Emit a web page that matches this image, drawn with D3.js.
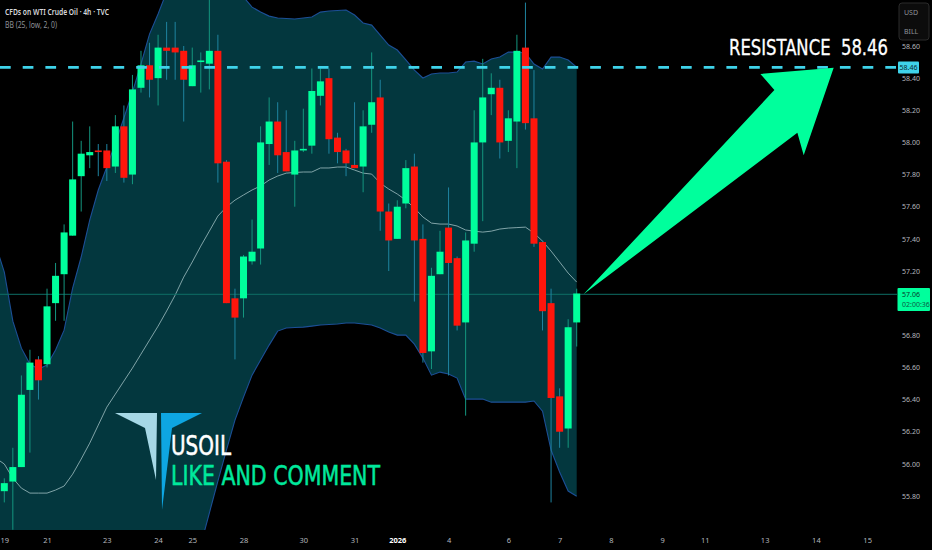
<!DOCTYPE html>
<html>
<head>
<meta charset="utf-8">
<script src="https://cdnjs.cloudflare.com/ajax/libs/d3/7.8.5/d3.min.js"></script>
<style>
    html, body { margin: 0; padding: 0; background: #000; overflow: hidden; }
    text { font-family: "Noto Sans", sans-serif; }
</style>
</head>
<body>
<div id="chart"></div>
<script>
// candles (4h bars)
var opens = [55.83,55.89,55.98,56.46,56.65,56.62,57.00,57.18,57.42,57.79,57.92,57.95,57.95,57.85,58.10,57.80,58.34,58.48,58.40,58.59,58.59,58.57,58.35,58.50,58.49,58.57,57.88,57.03,57.03,57.26,57.34,57.99,58.13,57.94,57.80,57.95,57.98,58.29,58.40,58.03,57.95,57.86,57.85,58.11,58.28,57.57,57.40,57.62,57.85,57.40,56.70,57.18,57.47,57.28,56.88,57.37,58.00,58.30,58.34,58.01,58.13,58.59,58.15,57.38,57.00,56.42,56.22,56.88];
var highs = [55.91,56.10,56.55,56.71,56.67,57.09,57.25,57.49,58.13,58.01,58.10,57.99,57.99,58.17,58.23,58.42,58.57,58.62,58.67,58.75,58.75,58.60,58.59,58.56,58.89,58.67,57.89,57.09,57.30,57.52,58.10,58.28,58.25,58.20,58.01,58.21,58.46,58.46,58.46,58.06,57.96,58.25,58.20,58.56,58.39,57.62,57.64,57.89,57.93,57.49,57.22,57.45,57.72,57.29,57.44,58.20,58.52,58.43,58.39,58.20,58.67,58.87,58.45,57.39,57.09,56.47,56.90,57.09];
var lows = [55.76,55.59,55.98,56.07,56.40,56.60,56.89,56.89,57.42,57.57,57.84,57.79,57.76,57.81,57.75,57.74,58.31,58.28,58.23,58.39,58.39,58.13,58.35,58.31,58.33,57.75,57.00,56.65,56.91,57.24,57.24,57.86,57.81,57.82,57.60,57.94,57.93,58.23,57.93,57.87,57.79,57.84,57.69,58.06,57.45,57.20,57.40,57.59,57.01,56.63,56.59,57.18,56.55,56.83,56.30,57.32,57.51,58.17,57.90,57.94,57.84,58.08,57.35,56.83,55.76,56.10,56.10,56.73];
var closes = [55.88,55.98,56.43,56.63,56.52,56.98,57.17,57.44,57.77,57.93,57.94,57.94,57.84,58.10,57.78,58.33,58.48,58.39,58.59,58.57,58.56,58.39,58.48,58.51,58.57,57.87,57.00,56.91,57.29,57.32,58.00,58.13,57.92,57.82,57.95,57.96,58.32,58.38,58.02,57.94,57.87,57.84,58.10,58.25,57.57,57.39,57.60,57.84,57.39,56.69,57.17,57.32,57.25,56.86,57.39,58.00,58.28,58.34,58.00,58.15,58.57,58.12,57.37,56.95,56.41,56.20,56.85,57.06];

// BB (25, low, 2, 0), first value sits one bar left of the first candle
var bbUpper = [57.361,57.193,56.888,56.720,56.621,56.590,56.615,56.708,56.832,57.094,57.287,57.517,57.704,57.847,57.996,58.152,58.313,58.488,58.674,58.799,58.936,59.042,59.135,59.197,59.197,59.166,59.104,59.023,58.961,58.905,58.842,58.811,58.786,58.774,58.771,58.768,58.774,58.780,58.811,58.818,58.821,58.824,58.793,58.743,58.730,58.668,58.606,58.575,58.513,58.450,58.401,58.426,58.432,58.432,58.438,58.500,58.506,58.488,58.519,58.531,58.562,58.562,58.556,58.488,58.457,58.531,58.531,58.513,58.469];
var bbBasis = [56.036,55.999,55.911,55.849,55.818,55.818,55.818,55.837,55.862,55.936,56.030,56.129,56.241,56.353,56.434,56.515,56.596,56.683,56.770,56.857,56.951,57.050,57.162,57.256,57.355,57.448,57.542,57.598,57.641,57.673,57.704,57.729,57.766,57.791,57.809,57.813,57.816,57.816,57.841,57.841,57.847,57.847,57.828,57.809,57.803,57.747,57.710,57.679,57.641,57.592,57.536,57.498,57.492,57.492,57.480,57.455,57.448,57.442,57.448,57.461,57.467,57.470,57.473,57.436,57.386,57.324,57.256,57.187,57.131];
var bbLower = [54.779,54.804,54.934,54.978,55.015,55.046,55.022,54.966,54.891,54.779,54.760,54.717,54.779,54.860,54.922,54.953,54.978,54.990,54.990,55.053,55.102,55.121,55.152,55.308,55.495,55.694,55.893,56.086,56.272,56.415,56.552,56.646,56.739,56.826,56.845,56.848,56.851,56.857,56.864,56.867,56.870,56.876,56.876,56.870,56.864,56.845,56.820,56.801,56.801,56.745,56.658,56.552,56.571,56.559,56.534,56.403,56.403,56.403,56.384,56.384,56.384,56.384,56.384,56.391,56.328,56.086,55.949,55.831,55.799];

// axis ticks, 57.00 sits under the last price tag so it is left out
var priceTicks = [58.6,58.4,58.2,58.0,57.8,57.6,57.4,57.2,56.8,56.6,56.4,56.2,56.0,55.8];
var timeTickBars = [0,5,12,18,22,28,35,41,46,52,59,65,71,77,82,89,95,101];
var timeTickLabels = ["19","21","23","24","25","28","30","31","2026","4","6","7","8","9","11","13","14","15"];

// drawn levels and the arrow, as bar index / price
var lastPrice = 57.055;
var lastPriceLabel = "57.06";
var resistance = 58.467;
var resistanceLabel = "58.46";
var arrowBars = [67.8,90.14,88.5,97.08,93.57,92.83];
var arrowPrices = [57.055,58.326,58.426,58.465,57.921,58.06];

var w = 932;
var h = 550;
var plotW = 897;
var plotH = 530;
var barW = 7;

var green = "#00ff9c";
var red = "#ff160c";
var cyan = "#3fd3ea";
var bannerFont = "'DejaVu Sans Condensed', 'DejaVu Sans', sans-serif";

var xScale = d3.scaleLinear().domain([0, 67]).range([4.3, 576.7]);
var yScale = d3.scaleLinear().domain([58.6, 55.8]).range([46, 496]);

var svg = d3.select("#chart")
            .append("svg")
            .attr("width", w)
            .attr("height", h)
            .style("display", "block")
            .style("background", "#000");

svg.append("clipPath")
   .attr("id", "plot")
   .append("rect")
   .attr("width", plotW)
   .attr("height", plotH);

var plot = svg.append("g").attr("clip-path", "url(#plot)");

var bands = d3.range(bbUpper.length);   // i = 0 is bar -1

// Bollinger fill
plot.append("path")
    .attr("d", d3.area()
        .x(function(i) { return xScale(i - 1); })
        .y0(function(i) { return yScale(bbLower[i]); })
        .y1(function(i) { return yScale(bbUpper[i]); })(bands))
    .attr("fill", "#03373e");

// Bollinger lines
[bbUpper, bbLower].forEach(function(values) {
    plot.append("path")
        .attr("d", d3.line()
            .x(function(i) { return xScale(i - 1); })
            .y(function(i) { return yScale(values[i]); })(bands))
        .attr("fill", "none")
        .attr("stroke", "#1c4f96")
        .attr("stroke-width", 1.1);
});

plot.append("path")
    .attr("d", d3.line()
        .x(function(i) { return xScale(i - 1); })
        .y(function(i) { return yScale(bbBasis[i]); })(bands))
    .attr("fill", "none")
    .attr("stroke", "#8fb0b3")
    .attr("stroke-width", 0.9);

// last price line
plot.append("line")
    .attr("x1", 0)
    .attr("x2", plotW)
    .attr("y1", yScale(lastPrice))
    .attr("y2", yScale(lastPrice))
    .attr("stroke", "#0e6f66")
    .attr("stroke-width", 1);

var bars = d3.range(opens.length);

// wicks
plot.selectAll(".wick")
    .data(bars)
    .enter()
    .append("line")
    .attr("class", "wick")
    .attr("x1", function(i) { return xScale(i); })
    .attr("x2", function(i) { return xScale(i); })
    .attr("y1", function(i) { return yScale(highs[i]); })
    .attr("y2", function(i) { return yScale(lows[i]); })
    .attr("stroke", function(i) { return closes[i] >= opens[i] ? "#14967f" : "#1f84a0"; })
    .attr("stroke-width", 1);

// bodies
plot.selectAll(".body")
    .data(bars)
    .enter()
    .append("rect")
    .attr("class", "body")
    .attr("x", function(i) { return xScale(i) - barW / 2; })
    .attr("y", function(i) { return yScale(Math.max(opens[i], closes[i])); })
    .attr("width", barW)
    .attr("height", function(i) { return Math.max(1, Math.abs(yScale(opens[i]) - yScale(closes[i]))); })
    .attr("fill", function(i) { return closes[i] >= opens[i] ? green : red; });

// resistance level
svg.append("line")
   .attr("x1", 0)
   .attr("x2", plotW)
   .attr("y1", yScale(resistance))
   .attr("y2", yScale(resistance))
   .attr("stroke", cyan)
   .attr("stroke-width", 2.6)
   .attr("stroke-dasharray", "10.7 12");

// arrow to the resistance
svg.append("polygon")
   .attr("points", arrowBars.map(function(b, i) {
       return xScale(b) + "," + yScale(arrowPrices[i]);
   }).join(" "))
   .attr("fill", green);

svg.append("text")
   .attr("x", 729)
   .attr("y", 55)
   .attr("fill", "#fff")
   .attr("stroke", "#fff")
   .attr("stroke-width", 0.3)
   .attr("font-size", 22)
   .attr("textLength", 159)
   .attr("lengthAdjust", "spacingAndGlyphs")
   .style("font-family", bannerFont)
   .style("white-space", "pre")
   .text("RESISTANCE  " + resistanceLabel);

// logo
svg.append("polygon")
   .attr("points", "115,413 157,413 156,480 145,428")
   .attr("fill", "#a6d8e6");
svg.append("polygon")
   .attr("points", "161,413 202,413 172,428 162,510")
   .attr("fill", "#0ea6e2");

svg.append("text")
   .attr("x", 171)
   .attr("y", 455)
   .attr("fill", "#fff")
   .attr("stroke", "#fff")
   .attr("stroke-width", 0.5)
   .attr("font-size", 27)
   .attr("textLength", 60)
   .attr("lengthAdjust", "spacingAndGlyphs")
   .style("font-family", bannerFont)
   .text("USOIL");

svg.append("text")
   .attr("x", 171)
   .attr("y", 485)
   .attr("fill", "#00e89c")
   .attr("stroke", "#00e89c")
   .attr("stroke-width", 0.5)
   .attr("font-size", 27)
   .attr("textLength", 209)
   .attr("lengthAdjust", "spacingAndGlyphs")
   .style("font-family", bannerFont)
   .text("LIKE AND COMMENT");

// price axis
var yAxis = d3.axisRight(yScale)
              .tickValues(priceTicks)
              .tickFormat(d3.format(".2f"))
              .tickSize(0)
              .tickPadding(0);

var yG = svg.append("g").attr("transform", "translate(902,0)").call(yAxis);
yG.select(".domain").remove();
yG.selectAll("text").attr("fill", "#b4b7bd").attr("font-size", 7);

// time axis, future dates keep the same bar spacing
var xAxis = d3.axisBottom(xScale)
              .tickValues(timeTickBars)
              .tickFormat(function(d, i) { return timeTickLabels[i]; })
              .tickSize(0)
              .tickPadding(0);

var xG = svg.append("g").attr("transform", "translate(0,537.5)").call(xAxis);
xG.select(".domain").remove();
xG.selectAll("text")
  .attr("fill", function(d, i) { return timeTickLabels[i] === "2026" ? "#fff" : "#b4b7bd"; })
  .attr("font-weight", function(d, i) { return timeTickLabels[i] === "2026" ? "bold" : "normal"; })
  .attr("font-size", 7.5);

// price labels
svg.append("rect")
   .attr("x", 898)
   .attr("y", yScale(resistance) - 6)
   .attr("width", 21)
   .attr("height", 12)
   .attr("rx", 1)
   .attr("fill", cyan);
svg.append("text")
   .attr("x", 908.5)
   .attr("y", yScale(resistance) + 2.5)
   .attr("text-anchor", "middle")
   .attr("fill", "#0a2a30")
   .attr("font-size", 7)
   .text(resistanceLabel);

svg.append("rect")
   .attr("x", 897.5)
   .attr("y", 288)
   .attr("width", 32.5)
   .attr("height", 23)
   .attr("rx", 1)
   .attr("fill", green);
svg.append("text")
   .attr("x", 902)
   .attr("y", 297)
   .attr("fill", "#06382c")
   .attr("font-size", 7)
   .text(lastPriceLabel);
svg.append("text")
   .attr("x", 902)
   .attr("y", 307)
   .attr("fill", "#0b5a45")
   .attr("font-size", 7)
   .text("02:00:36");

// currency / unit box
svg.append("rect")
   .attr("x", 899)
   .attr("y", 3)
   .attr("width", 30)
   .attr("height", 37)
   .attr("rx", 3)
   .attr("fill", "#0c0c0c")
   .attr("stroke", "#2a2a2a");
svg.append("text").attr("x", 904).attr("y", 15).attr("fill", "#8f9298").attr("font-size", 7).text("USD");
svg.append("text").attr("x", 904).attr("y", 34).attr("fill", "#8f9298").attr("font-size", 7).text("BILL");

// chart title and indicator legend
svg.append("text")
   .attr("x", 5)
   .attr("y", 15)
   .attr("fill", "#d8d9dc")
   .attr("font-size", 8)
   .attr("font-weight", 600)
   .attr("textLength", 104)
   .attr("lengthAdjust", "spacingAndGlyphs")
   .text("CFDs on WTI Crude Oil \u00b7 4h \u00b7 TVC");
svg.append("text")
   .attr("x", 5)
   .attr("y", 28)
   .attr("fill", "#8f9298")
   .attr("font-size", 8)
   .attr("textLength", 52)
   .attr("lengthAdjust", "spacingAndGlyphs")
   .text("BB (25, low, 2, 0)");
</script>
</body>
</html>
